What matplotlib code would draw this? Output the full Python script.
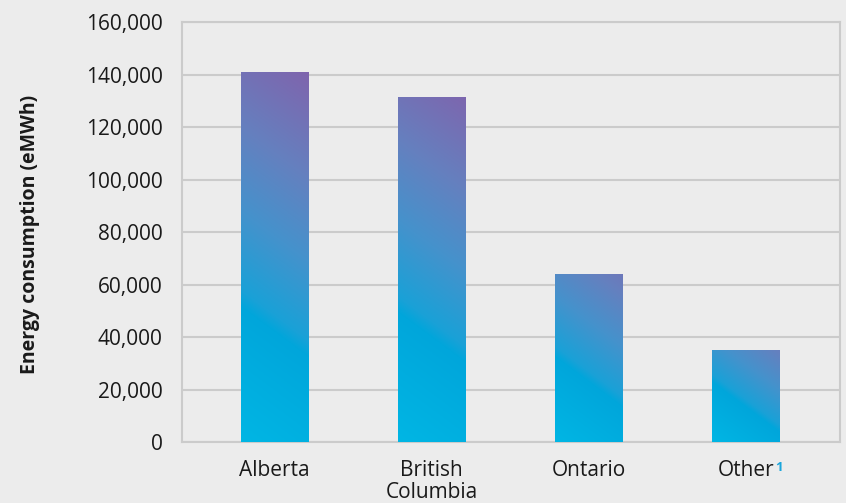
import numpy as np
import matplotlib
matplotlib.use("Agg")
import matplotlib.pyplot as plt
from matplotlib.colors import LinearSegmentedColormap

categories = ["Alberta", "British\nColumbia", "Ontario", "Other"]
values = [141000, 131300, 64000, 35000]
yticks = [0, 20000, 40000, 60000, 80000, 100000, 120000, 140000, 160000]
ytick_labels = ["0", "20,000", "40,000", "60,000", "80,000", "100,000", "120,000", "140,000", "160,000"]
ylabel = "Energy consumption (eMWh)"

BG = "#ececec"
GRID = "#cbcbcb"
FONT = ["Open Sans", "DejaVu Sans"]

cmap = LinearSegmentedColormap.from_list(
    "grad", [(0.0, "#00b6e4"), (0.32, "#00a6db"), (0.36, "#1aa1d7"),
             (0.55, "#4592cc"), (0.75, "#6580bf"), (1.0, "#7f64ad")])

W, H = 8.46, 5.03
fig = plt.figure(figsize=(W, H), dpi=100, facecolor=BG)
ax = fig.add_axes([0.215, 0.121, 0.778, 0.835], facecolor=BG)

x = np.arange(len(categories))
width = 0.43
ymax = 160000
xlim = (-0.59, 3.6)
ax.set_xlim(*xlim)
ax.set_ylim(0, ymax)

px_per_y = 0.835 * H * 100 / ymax
px_per_x = 0.778 * W * 100 / (xlim[1] - xlim[0])
slope = 0.74
ref_h = 370.0

bars = ax.bar(x, values, width=width, color="none", zorder=3)
for b, v in zip(bars, values):
    x0 = b.get_x()
    w = b.get_width()
    wpx = w * px_per_x
    hpx = v * px_per_y
    u = np.linspace(0, wpx, 80)[None, :]
    hh = np.linspace(0, hpx, 300)[:, None]
    p = hh + slope * u
    pmax = hpx + slope * wpx
    scale = 0.68 + 0.32 * min(1.0, hpx / ref_h)
    t = np.clip(p / pmax * scale, 0, 1)
    im = ax.imshow(t, extent=[x0, x0 + w, 0, v], origin="lower", cmap=cmap,
                   vmin=0, vmax=1, aspect="auto", zorder=3, interpolation="bilinear")
    im.set_clip_path(b)

ax.set_yticks(yticks)
ax.set_yticklabels(ytick_labels, fontsize=15, family=FONT, color="#1a1a1a")
ax.set_xticks(x)
ax.set_xticklabels(categories, fontsize=15, family=FONT, color="#1a1a1a", linespacing=1.05)
ax.tick_params(axis="y", length=0, pad=14)
ax.tick_params(axis="x", length=0, pad=13)
ax.yaxis.grid(True, color=GRID, linewidth=1.5, zorder=0)
ax.set_axisbelow(True)
for s in ax.spines.values():
    s.set_color(GRID)
    s.set_linewidth(1.5)

fig.text(30 / (W * 100), 1 - 234 / (H * 100), ylabel, rotation=90, ha="center", va="center",
         fontsize=14, fontweight="bold", family=FONT, color="#1a1a1a")

lbl = ax.get_xticklabels()[3]
ax.annotate("1", xy=(1, 1), xycoords=lbl, xytext=(0.8, -0.5), textcoords="offset points",
            fontsize=9.5, fontweight="bold", color="#1aa6dc", family=FONT, va="top", ha="left")

fig.savefig("out.png", dpi=100, facecolor=BG)
